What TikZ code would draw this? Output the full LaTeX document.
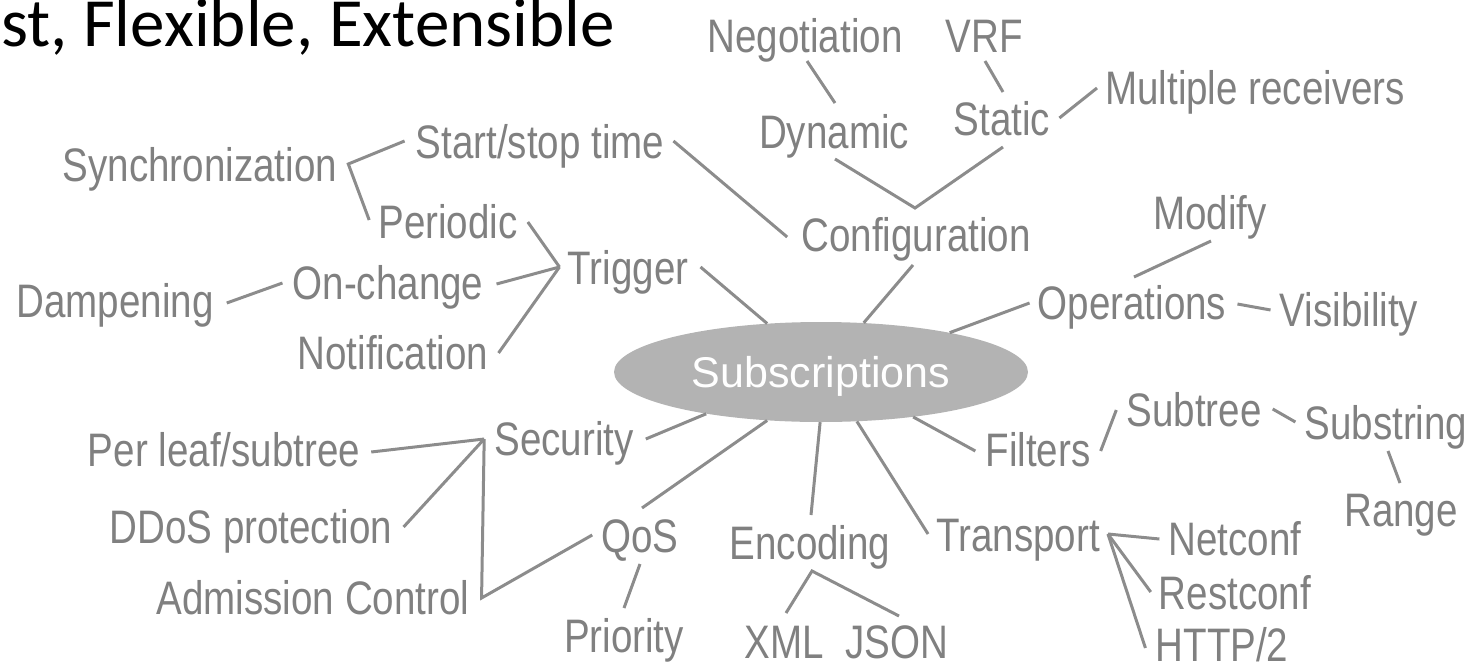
\documentclass[tikz,border=0pt]{standalone}
\usepackage{fontspec}
\newfontfamily\narrowfont{Liberation Sans}[FakeStretch=0.82]
\newfontfamily\arialfont{Liberation Sans}
\newfontfamily\titlefont{Carlito}
\usetikzlibrary{shapes.geometric,calc}
\definecolor{txtgray}{RGB}{128,128,128}
\definecolor{lngray}{RGB}{140,140,140}
\definecolor{ellgray}{RGB}{179,179,179}
\begin{document}
\begin{tikzpicture}[x=1pt,y=-1pt,
  lbl/.style={font=\narrowfont\fontsize{47}{50}\selectfont, text=txtgray, inner sep=0pt, text height=33.7pt, text depth=0pt},
  conn/.style={draw=lngray, line width=3pt}]
\useasboundingbox (0,0) rectangle (1481,670);

% title
\node[font=\titlefont\fontsize{69}{72}\selectfont, text=black, inner sep=0pt, anchor=base west] (title) at (1,46) {st, Flexible, Extensible};

% centre
\node[ellipse, fill=ellgray, minimum width=414pt, minimum height=100pt, inner sep=0pt, text=white,
      font=\arialfont\fontsize{43}{46}\selectfont, text height=31pt, text depth=0pt] (sub) at (821,372) {Subscriptions};

% labels
\node[lbl] (neg) at (805,36) {Negotiation};
\node[lbl] (vrf) at (984,36) {VRF};
\node[lbl, anchor=west] (multi) at (1105,88) {Multiple receivers};
\node[lbl] (stat) at (1002,119) {Static};
\node[lbl] (dyn) at (834,132) {Dynamic};
\node[lbl] (start) at (540,142) {Start/stop time};
\node[lbl] (sync) at (200,165) {Synchronization};
\node[lbl] (per) at (448,222) {Periodic};
\node[lbl] (conf) at (916,235) {Configuration};
\node[lbl] (modify) at (1210,213) {Modify};
\node[lbl] (trig) at (628,268) {Trigger};
\node[lbl] (onch) at (388,283) {On-change};
\node[lbl] (damp) at (115,301) {Dampening};
\node[lbl] (oper) at (1132,303) {Operations};
\node[lbl] (vis) at (1349,310) {Visibility};
\node[lbl] (notif) at (393,353) {Notification};
\node[lbl] (secu) at (564,439) {Security};
\node[lbl] (perleaf) at (224,450) {Per leaf/subtree};
\node[lbl] (subtree) at (1194,410) {Subtree};
\node[lbl] (substr) at (1386,423) {Substring};
\node[lbl] (filt) at (1038,450) {Filters};
\node[lbl] (range) at (1401,510) {Range};
\node[lbl] (ddos) at (251,527) {DDoS protection};
\node[lbl] (qos) at (640,536) {QoS};
\node[lbl] (enc) at (810,543) {Encoding};
\node[lbl] (trans) at (1018,535) {Transport};
\node[lbl] (netconf) at (1235,539) {Netconf};
\node[lbl] (restconf) at (1235,593) {Restconf};
\node[lbl] (adm) at (313,598) {Admission Control};
\node[lbl] (prio) at (624,636) {Priority};
\node[lbl] (xml) at (784,642) {XML};
\node[lbl] (json) at (897,642) {JSON};
\node[lbl] (http) at (1222,645) {HTTP/2};

% apex coordinates
\coordinate (cfgapex) at ($(conf)+(-1,-27)$);
\coordinate (syncapex) at ($(sync.east)+(11,-1)$);
\coordinate (trigapex) at ($(trig.west)+(-8,-1)$);
\coordinate (secapex) at ($(secu.west)+(-10,0)$);
\coordinate (admapex) at ($(adm.east)+(12,0)$);
\coordinate (encapex) at ($(enc)+(2,28)$);
\coordinate (trapex) at ($(trans.east)+(8,-1)$);

% configuration branch
\draw[conn] ($(neg)+(2,25)$) -- ($(dyn)+(1,-29)$);
\draw[conn] ($(vrf)+(1,25)$) -- ($(stat)+(1,-27)$);
\draw[conn] ($(stat.east)+(9,-1)$) -- ($(multi.west)+(-8,0)$);
\draw[conn] ($(dyn)+(1,27)$) -- (cfgapex) -- ($(stat)+(1,28)$);
\draw[conn] ($(start.east)+(9,-1)$) -- ($(conf.west)+(-14,2)$);
\draw[conn] ($(conf)+(-3,30)$) -- (sub.49);

% trigger branch
\draw[conn] ($(start.west)+(-11,-1)$) -- (syncapex) -- ($(per.west)+(-9,-2)$);
\draw[conn] ($(per.east)+(10,0)$) -- (trigapex);
\draw[conn] ($(onch.east)+(13,1)$) -- (trigapex);
\draw[conn] ($(notif.east)+(10,0)$) -- (trigapex);
\draw[conn] ($(damp.east)+(13,2)$) -- ($(onch.west)+(-10,0)$);
\draw[conn] ($(trig.east)+(12,-1)$) -- (sub.138);

% operations branch
\draw[conn] ($(oper.west)+(-8,0)$) -- (sub.17);
\draw[conn] ($(modify)+(1,28)$) -- ($(oper)+(2,-26)$);
\draw[conn] ($(oper.east)+(11,1)$) -- ($(vis.west)+(-9,0)$);

% filters branch
\draw[conn] ($(filt.west)+(-10,1)$) -- (sub.334);
\draw[conn] ($(filt.east)+(10,1)$) -- ($(subtree.west)+(-10,0)$);
\draw[conn] ($(subtree.east)+(11,-1)$) -- ($(substr.west)+(-9,-1)$);
\draw[conn] ($(substr)+(2,28)$) -- ($(range)+(-1,-27)$);

% transport branch
\draw[conn] ($(trans.west)+(-8,-1)$) -- (sub.306);
\draw[conn] (trapex) -- ($(netconf.west)+(-9,0)$);
\draw[conn] (trapex) -- ($(restconf.west)+(-8,-1)$);
\draw[conn] (trapex) -- ($(http.west)+(-10,3)$);

% encoding branch
\draw[conn] ($(enc)+(1,-28)$) -- (sub.269);
\draw[conn] ($(xml)+(2,-29)$) -- (encapex) -- ($(json)+(2,-26)$);

% QoS / security branch
\draw[conn] ($(qos)+(2,-28)$) -- (sub.222);
\draw[conn] ($(qos)+(0,28)$) -- ($(prio)+(0,-28)$);
\draw[conn] ($(secu.east)+(12,0)$) -- (sub.200);
\draw[conn] ($(perleaf.east)+(11,2)$) -- (secapex);
\draw[conn] ($(ddos.east)+(11,0)$) -- (secapex);
\draw[conn] (secapex) -- (admapex) -- ($(qos.west)+(-9,-1)$);
\end{tikzpicture}
\end{document}
